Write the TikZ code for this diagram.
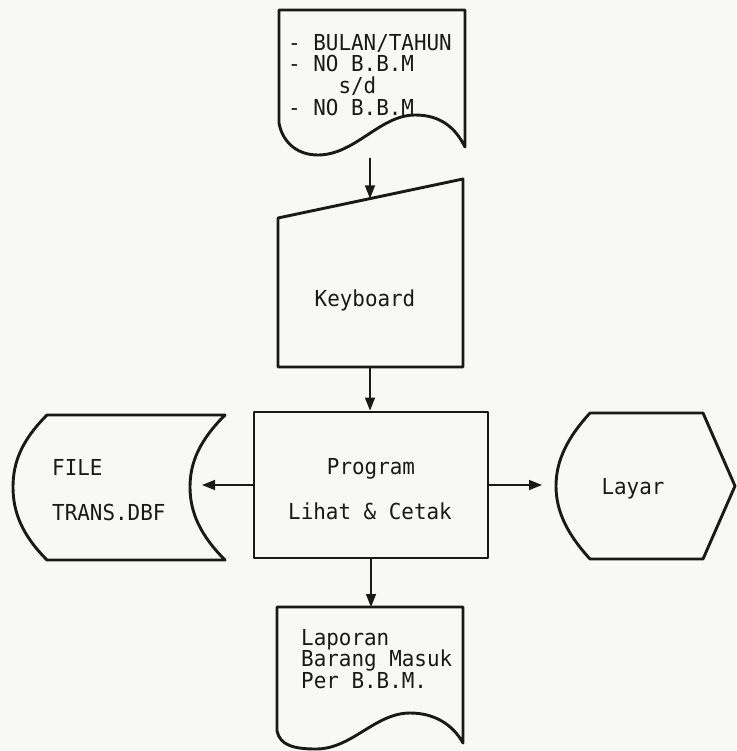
\documentclass[tikz,border=0pt]{standalone}
\usepackage{fontspec}
\newfontfamily\pixfont[FakeStretch=0.95]{DejaVu Sans Mono}
\usetikzlibrary{arrows.meta}
\definecolor{paper}{RGB}{248,248,246}
\definecolor{ink}{RGB}{25,25,25}
\begin{document}
\begin{tikzpicture}[x=1pt,y=-1pt,
  shp/.style={line width=2.9pt, line join=round, draw=ink},
  arr/.style={line width=1.4pt, draw=ink, -{Triangle[length=13pt,width=10pt]}},
  txt/.style={font=\pixfont\fontsize{22}{21.7}\selectfont, inner sep=0pt, align=left, text=ink}]
\fill[paper] (0,0) rectangle (736,751);
\useasboundingbox (0,0) rectangle (736,751);

% top document
\draw[shp] (279,123) -- (279,10) -- (465,10) -- (465,147)
  .. controls (455,127) and (440,115) .. (415,115)
  .. controls (380,115) and (355,155) .. (318,155)
  .. controls (295,155) and (282,140) .. (279,123) -- cycle;
\node[txt, anchor=north west] (inp) at (288,34)
  {- BULAN/TAHUN\\- NO B.B.M\\\phantom{0000}s/d\\- NO B.B.M};

% keyboard
\draw[shp] (278,218) -- (463,179) -- (463,367) -- (278,367) -- cycle;
\node[txt] (kb) at (365,300) {Keyboard};

% program
\node[shp, draw, minimum width=234pt, minimum height=146pt, inner sep=0pt] (prog) at (371,485) {};
\node[txt] (progA) at (371,469) {Program};
\node[txt] (progB) at (370,511) {Lihat \& Cetak};

% storage
\draw[shp] (47,415) -- (225,415)
  .. controls (200,440) and (190,462) .. (190,487)
  .. controls (190,512) and (200,535) .. (225,560)
  -- (47,560)
  .. controls (22,535) and (13,512) .. (13,487)
  .. controls (13,462) and (22,440) .. (47,415) -- cycle;
\node[txt, anchor=west] (file1) at (52,467) {FILE};
\node[txt, anchor=west] (file2) at (52,512) {TRANS.DBF};

% display
\draw[shp] (590,413) -- (703,413) -- (735,486) -- (703,559) -- (590,559)
  .. controls (568,535) and (556,512) .. (556,486)
  .. controls (556,460) and (568,437) .. (590,413) -- cycle;
\node[txt] (layar) at (633,489) {Layar};

% bottom document
\draw[shp] (277,731) -- (277,607) -- (463,607) -- (463,743)
  .. controls (453,725) and (435,713) .. (410,713)
  .. controls (375,713) and (352,749) .. (316,749)
  .. controls (293,749) and (280,745) .. (277,731) -- cycle;
\node[txt, anchor=north west] (lap) at (301,629) {Laporan\\Barang Masuk\\Per B.B.M.};

% connectors
\coordinate (inpOut) at (370,158);
\coordinate (kbIn) at (370,198.5);
\coordinate (kbOut) at (370,367);
\coordinate (fileIn) at (202,485);
\coordinate (layIn) at (542,485);
\coordinate (lapIn) at (371,607);
\draw[arr] (inpOut) -- (kbIn);
\draw[arr] (kbOut) -- (kbOut |- prog.north);
\draw[arr] (prog.west) -- (fileIn);
\draw[arr] (prog.east) -- (layIn);
\draw[arr] (prog.south) -- (lapIn);
\end{tikzpicture}
\end{document}
